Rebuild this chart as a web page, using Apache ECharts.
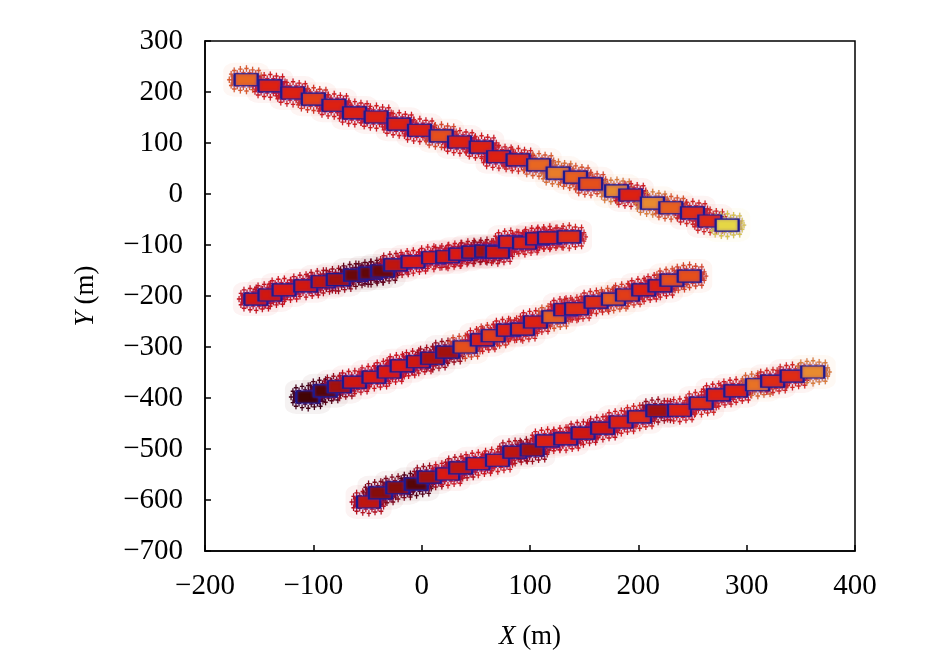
<!DOCTYPE html>
<html>
<head>
<meta charset="utf-8">
<script src="https://cdn.jsdelivr.net/npm/echarts@6/dist/echarts.min.js"></script>
<style>
html,body{margin:0;padding:0;background:#fff;}
#main{width:945px;height:663px;}
</style>
</head>
<body>
<div id="main"></div>
<script>
// [x, y, level]  level: 0 = dark, 1 = yellow
var strip1 = [[-162,224,0.62],[-140,212,0.42],[-119,198,0.42],[-100,186,0.5],[-81,174,0.42],[-62,159,0.42],[-42,151,0.42],[-21,137,0.42],[-2,125,0.42],[18,114,0.55],[35,102,0.42],[55,92,0.42],[71,73,0.42],[89,67,0.45],[108,57,0.62],[126,41,0.68],[142,33,0.6],[156,20,0.55],[180,6,0.72],[193,-2,0.42],[213,-18,0.72],[230,-27,0.6],[250,-37,0.45],[266,-53,0.45],[282,-61,0.95]];
var strip2 = [[-153,-206,0.38],[-140,-198,0.38],[-127,-188,0.4],[-107,-180,0.38],[-91,-172,0.35],[-77,-168,0.3],[-61,-159,0.2],[-47,-155,0.18],[-36,-151,0.2],[-24,-139,0.35],[-8,-133,0.4],[11,-125,0.4],[24,-123,0.38],[36,-118,0.4],[48,-114,0.35],[60,-112,0.3],[70,-114,0.38],[82,-94,0.42],[95,-96,0.42],[107,-88,0.4],[118,-86,0.42],[136,-84,0.45]];
var strip3 = [[-105,-398,0.1],[-89,-386,0.15],[-76,-378,0.3],[-62,-369,0.38],[-44,-359,0.4],[-30,-349,0.4],[-18,-337,0.4],[-3,-329,0.38],[10,-322,0.32],[24,-310,0.3],[40,-300,0.55],[56,-286,0.42],[66,-278,0.5],[80,-267,0.42],[93,-265,0.45],[105,-251,0.42],[122,-241,0.6],[133,-227,0.4],[143,-225,0.45],[161,-212,0.45],[177,-206,0.58],[190,-198,0.5],[205,-188,0.42],[220,-180,0.42],[231,-169,0.55],[247,-161,0.55]];
var strip4 = [[-49,-604,0.35],[-38,-586,0.25],[-22,-576,0.25],[-5,-569,0.15],[7,-555,0.3],[24,-549,0.4],[36,-537,0.35],[52,-529,0.4],[70,-522,0.42],[86,-506,0.35],[102,-502,0.3],[116,-484,0.42],[133,-480,0.4],[149,-469,0.38],[167,-459,0.38],[184,-447,0.42],[201,-437,0.45],[218,-425,0.3],[238,-424,0.42],[258,-410,0.45],[274,-394,0.42],[290,-386,0.42],[310,-374,0.65],[324,-367,0.45],[342,-357,0.45],[361,-349,0.72]];

var xTicks = [-200,-100,0,100,200,300,400];
var yTicks = [-700,-600,-500,-400,-300,-200,-100,0,100,200,300];

var allPts = strip1.concat(strip2, strip3, strip4);
var font = "'Liberation Serif','Times New Roman',serif";

// little crosses scattered round a band, used as the "+" cloud symbol
function crossCloud() {
    var c = [[3,18],[6,10],[6,26],[11,5],[11,31],[16,9],[16,27],[21,3],[21,33],[26,8],[26,28],[31,2],[31,34],[36,8],[36,28],[41,4],[41,32],[46,9],[46,27],[51,5],[51,31],[55,12],[55,24],[58,18],[10,18],[50,18]];
    var p = 'path://M6 11 H54 V25 H6 Z';
    c.forEach(function (q) {
        p += ' M' + (q[0]-3.5) + ' ' + (q[1]-1) + ' h7 v2 h-7 Z';
        p += ' M' + (q[0]-1) + ' ' + (q[1]-4.5) + ' h2 v9 h-2 Z';
    });
    return p;
}

function minus(v) { return String(v).replace('-', '\u2212'); }

var myChart = echarts.init(document.getElementById('main'));
var option = {
    backgroundColor: '#fff',
    animation: false,
    textStyle: { fontFamily: font },
    grid: { left: 205, top: 41, width: 650, height: 510, show: true, borderColor: '#000', borderWidth: 1.5, backgroundColor: 'transparent' },
    visualMap: {
        show: false,
        type: 'continuous',
        dimension: 2,
        min: 0,
        max: 1,
        seriesIndex: [0, 1, 2],
        inRange: { color: ['#1a0000', '#6a0808', '#dc1a10', '#e8601e', '#e8a83a', '#e4e648'] }
    },
    xAxis: {
        type: 'value', min: -200, max: 400, interval: 100,
        name: '{i|X} (m)', nameLocation: 'middle', nameGap: 72,
        nameTextStyle: { fontFamily: font, fontSize: 27, color: '#000', rich: { i: { fontStyle: 'italic', fontFamily: font, fontSize: 27 } } },
        axisLine: { show: true, onZero: false, lineStyle: { color: '#000', width: 1.5 } },
        axisTick: { show: true, inside: true, length: 6, lineStyle: { color: '#000', width: 1.5 } },
        splitLine: { show: false },
        axisLabel: { fontFamily: font, fontSize: 29, color: '#000', margin: 21,
            formatter: function (v) { return xTicks.indexOf(v) >= 0 ? minus(v) : ''; } }
    },
    yAxis: {
        type: 'value', min: -700, max: 300, interval: 100,
        name: '{i|Y} (m)', nameLocation: 'middle', nameGap: 106,
        nameTextStyle: { fontFamily: font, fontSize: 27, color: '#000', rich: { i: { fontStyle: 'italic', fontFamily: font, fontSize: 27 } } },
        axisLine: { show: true, onZero: false, lineStyle: { color: '#000', width: 1.5 } },
        axisTick: { show: true, inside: true, length: 6, lineStyle: { color: '#000', width: 1.5 } },
        splitLine: { show: false },
        axisLabel: { fontFamily: font, fontSize: 29, color: '#000', margin: 22,
            formatter: function (v) { return yTicks.indexOf(v) >= 0 ? minus(v) : ''; } }
    },
    series: [
        {
            name: 'halo', type: 'scatter', data: allPts,
            symbol: 'roundRect', symbolSize: [46, 34],
            itemStyle: { opacity: 0.05 }, silent: true, z: 1
        },
        {
            name: 'cloud', type: 'scatter', data: allPts,
            symbol: crossCloud(), symbolSize: [38, 29],
            itemStyle: { opacity: 1, borderColor: 'rgba(90,30,200,0.25)', borderWidth: 0.3 }, z: 2
        },
        {
            name: 'box', type: 'scatter', data: allPts,
            symbol: 'rect', symbolSize: [23, 12],
            itemStyle: { opacity: 1, borderColor: '#1e1a8c', borderWidth: 1.6,
                shadowBlur: 3, shadowColor: 'rgba(90,40,220,0.6)' }, z: 3
        }
    ]
};
myChart.setOption(option);
</script>
</body>
</html>
